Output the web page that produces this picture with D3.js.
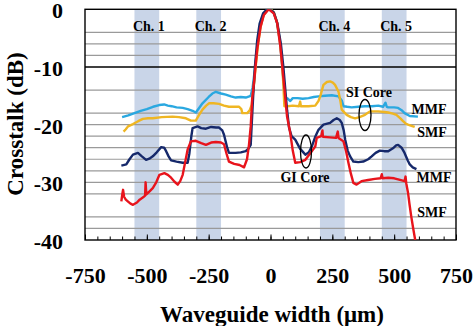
<!DOCTYPE html>
<html>
<head>
<meta charset="utf-8">
<script src="https://cdn.jsdelivr.net/npm/d3@7"></script>
<style>
  body{ margin:0; background:#fff; }
</style>
</head>
<body>
<svg id="chart" width="474" height="326"></svg>
<script>
//tick labels and reference lines
let xTicks = [-750, -500, -250, 0, 250, 500, 750];
let yTicks = [0, -10, -20, -30, -40];
let gridLines = [-4, -6, -8, -14, -18, -20, -22, -24, -26, -28, -30, -32, -36, -38];
let channels = [{name:"Ch. 1", c:-500}, {name:"Ch. 2", c:-250}, {name:"Ch. 4", c:250}, {name:"Ch. 5", c:500}];

//SI core, MMF (light blue)
let siMMF = [[-600,-18.7],[-575,-18.4],[-550,-18.0],[-525,-17.6],[-500,-17.3],[-475,-16.9],[-450,-16.6],[-430,-16.5],[-415,-16.7],[-400,-16.8],[-380,-17.0],[-355,-17.1],[-335,-17.3],[-315,-17.6],[-302,-17.9],[-290,-17.2],[-275,-16.3],[-250,-15.2],[-235,-14.6],[-221,-14.3],[-200,-14.6],[-181,-14.8],[-160,-15.1],[-141,-15.3],[-120,-15.2],[-100,-15.3],[-80,-15.0],[-72,-13.5],[-62,-10],[-52,-6],[-42,-3.2],[-30,-1.2],[-15,-0.1],[0,0],[12,-0.5],[25,-2],[38,-5.5],[48,-10],[55,-14],[60,-15.3],[70,-15.5],[80,-15.9],[90,-15.4],[110,-15.4],[130,-15.5],[154,-15.4],[175,-15.2],[194,-15.1],[220,-15.0],[248,-14.9],[275,-15.1],[288,-15.8],[295,-16.8],[310,-16.9],[328,-17.0],[355,-16.9],[382,-16.8],[410,-16.8],[436,-16.7],[455,-16.9],[465,-16.2],[470,-16.9],[476,-17.0],[500,-17.0],[516,-17.1],[530,-17.5],[542,-18.0],[563,-18.5],[596,-18.6]];

//SI core, SMF (gold)
let siSMF = [[-594,-21.2],[-585,-20.8],[-576,-20.3],[-556,-19.9],[-535,-19.4],[-516,-19.0],[-495,-18.9],[-476,-18.9],[-440,-18.7],[-396,-18.6],[-370,-18.7],[-342,-18.9],[-322,-19.3],[-302,-19.3],[-290,-18.4],[-275,-17.4],[-260,-16.7],[-248,-16.3],[-230,-16.3],[-208,-16.4],[-188,-16.7],[-168,-16.9],[-150,-16.9],[-127,-16.9],[-118,-17.3],[-114,-18.0],[-94,-18.0],[-84,-17.5],[-76,-16.6],[-68,-13.5],[-60,-10],[-50,-6],[-40,-3],[-28,-1],[-12,-0.1],[2,0],[14,-0.6],[26,-2.2],[38,-5.5],[46,-9],[52,-13],[56,-16.8],[70,-16.8],[90,-16.7],[115,-16.8],[120,-16.0],[123,-16.8],[154,-16.8],[181,-16.7],[194,-15.9],[201,-15.1],[214,-13.1],[228,-12.6],[241,-12.5],[252,-12.7],[261,-13.1],[275,-14.3],[283,-16.0],[288,-17.4],[308,-18.3],[325,-18.7],[342,-18.9],[360,-18.7],[382,-18.3],[402,-17.7],[436,-17.7],[460,-17.8],[476,-17.9],[495,-18.1],[509,-18.3],[525,-18.9],[536,-19.4],[546,-19.8],[556,-20.0],[570,-20.2],[583,-20.4]];

//GI core, MMF (navy)
let giMMF = [[-603,-27.1],[-583,-26.9],[-570,-26.0],[-556,-25.2],[-536,-24.9],[-520,-25.5],[-503,-26.1],[-490,-25.9],[-476,-25.5],[-460,-24.8],[-442,-23.9],[-430,-24.0],[-422,-24.6],[-412,-25.5],[-402,-26.2],[-380,-26.4],[-355,-26.6],[-335,-26.6],[-328,-25.0],[-320,-22.0],[-315,-20.6],[-295,-20.3],[-280,-20.6],[-261,-20.7],[-240,-20.4],[-220,-20.5],[-208,-20.5],[-195,-21.0],[-188,-21.75],[-175,-24.0],[-168,-24.9],[-141,-24.9],[-120,-24.8],[-100,-24.6],[-90,-24.2],[-80,-23.5],[-76,-20],[-70,-15],[-63,-10],[-54,-5.5],[-44,-2.5],[-30,-0.7],[-14,0],[0,-0.1],[14,-0.6],[28,-2.5],[42,-6],[52,-10],[60,-14],[67,-17.5],[75,-20.5],[85,-22.0],[100,-22.6],[120,-24.2],[141,-25.2],[155,-24.8],[167,-23.8],[180,-22.2],[194,-20.9],[214,-20.0],[241,-19.7],[255,-19.2],[268,-18.9],[280,-19.2],[288,-19.7],[296,-21],[302,-22.6],[312,-24.5],[322,-25.5],[335,-26.4],[355,-26.5],[375,-26.4],[395,-26.0],[409,-25.5],[425,-24.9],[442,-24.5],[460,-24.6],[476,-24.6],[495,-24.1],[508,-23.6],[516,-23.5],[530,-24.0],[542,-24.9],[555,-26.2],[563,-26.9],[575,-27.4],[590,-27.7]];

//GI core, SMF (red)
let giSMF = [[-603,-33.3],[-599,-32.0],[-596,-31.3],[-592,-32.5],[-585,-33.0],[-577,-33.3],[-566,-33.7],[-556,-33.9],[-540,-33.5],[-529,-33.0],[-515,-32.6],[-507,-32.3],[-505,-30.0],[-502,-32.1],[-490,-31.6],[-476,-31.0],[-462,-30.0],[-449,-28.7],[-429,-28.4],[-415,-28.7],[-402,-29.2],[-388,-29.9],[-375,-30.4],[-365,-29.8],[-355,-28.7],[-345,-26.5],[-335,-24.3],[-322,-22.9],[-302,-22.8],[-280,-23.2],[-261,-23.5],[-240,-23.1],[-221,-23.0],[-200,-23.1],[-188,-23.4],[-178,-25.0],[-168,-26.4],[-147,-26.8],[-125,-27.0],[-107,-27.4],[-95,-26.0],[-87,-23.5],[-80,-20.3],[-74,-15.5],[-67,-12.8],[-54,-7.0],[-40,-3.0],[-27,-1.0],[-7,0],[13,-0.7],[27,-2.4],[40,-6.5],[54,-12.8],[67,-18.6],[80,-21.5],[90,-24.5],[100,-26.6],[120,-26.5],[141,-26.1],[160,-25.0],[181,-23.8],[187,-22.3],[205,-22.0],[210,-21.0],[212,-22.1],[240,-22.2],[265,-22.3],[272,-21.2],[275,-22.3],[295,-22.9],[305,-24.5],[315,-26.6],[325,-28.5],[335,-30.1],[348,-30.4],[368,-29.8],[395,-29.6],[422,-29.4],[445,-29.3],[450,-28.6],[453,-29.3],[476,-29.2],[500,-29.3],[516,-29.5],[542,-29.8],[546,-29.0],[549,-30.2],[556,-31.8],[562,-33.8],[569,-35.9],[577,-38.0],[585,-40]];

let series = [
    {data: siMMF, color: "#2aa8e0"},
    {data: siSMF, color: "#efb623"},
    {data: giMMF, color: "#16296b"},
    {data: giSMF, color: "#e8141c"}
];

let serif = "'Liberation Serif', 'Times New Roman', 'DejaVu Serif', serif";

//plot box
let plotL = 85, plotR = 456, plotT = 9.3, plotB = 240;

let svg = d3.select("#chart");
let x = d3.scaleLinear().domain([-750, 750]).range([plotL, plotR]);
let y = d3.scaleLinear().domain([-40, 0]).range([plotB, plotT]);

svg.append("clipPath").attr("id", "plotClip")
    .append("rect").attr("x", plotL).attr("y", plotT)
    .attr("width", plotR - plotL).attr("height", plotB - plotT);

//channel bands
svg.append("g").selectAll("rect").data(channels).join("rect")
    .attr("x", d => x(d.c - 50))
    .attr("y", plotT)
    .attr("width", d => x(d.c + 50) - x(d.c - 50))
    .attr("height", plotB - plotT)
    .attr("fill", "#c9d5e8");

//gridlines
svg.append("g").selectAll("line").data(gridLines).join("line")
    .attr("x1", plotL).attr("x2", plotR)
    .attr("y1", d => y(d)).attr("y2", d => y(d))
    .attr("stroke", "#9a9a9a").attr("stroke-width", 1.2);

svg.append("line")
    .attr("x1", plotL).attr("x2", plotR)
    .attr("y1", y(-10)).attr("y2", y(-10))
    .attr("stroke", "#000").attr("stroke-width", 1.3);

//minor and major ticks pointing inward
let minor = d3.axisBottom(x).tickValues(d3.range(-750, 751, 50)).tickSize(-3.5).tickFormat("");
let minorG = svg.append("g").attr("transform", `translate(0,${plotB})`).call(minor);
minorG.select(".domain").remove();
minorG.selectAll("line").attr("stroke", "#000").attr("stroke-width", 1);

let major = d3.axisBottom(x).tickValues(xTicks).tickSize(-5.5).tickFormat("");
let majorG = svg.append("g").attr("transform", `translate(0,${plotB})`).call(major);
majorG.select(".domain").remove();
majorG.selectAll("line").attr("stroke", "#000").attr("stroke-width", 1);

//frame
svg.append("rect")
    .attr("x", plotL).attr("y", plotT)
    .attr("width", plotR - plotL).attr("height", plotB - plotT)
    .attr("fill", "none").attr("stroke", "#000").attr("stroke-width", 1.4);

//curves
let line = d3.line().x(d => x(d[0])).y(d => y(d[1]));
svg.append("g").attr("clip-path", "url(#plotClip)")
    .selectAll("path").data(series).join("path")
    .attr("d", d => line(d.data))
    .attr("fill", "none")
    .attr("stroke", d => d.color)
    .attr("stroke-width", 2.4)
    .attr("stroke-linejoin", "round");

//axes labels
let xAxis = d3.axisBottom(x).tickValues(xTicks).tickSize(0).tickFormat(d => d);
let xg = svg.append("g").attr("transform", `translate(0,${plotB})`).call(xAxis);
xg.select(".domain").remove();
xg.attr("font-family", serif).attr("font-size", 22).attr("font-weight", "bold");
xg.selectAll("text").attr("y", 43).attr("dy", 0).attr("fill", "#000");

let yAxis = d3.axisLeft(y).tickValues(yTicks).tickSize(0).tickPadding(22).tickFormat(d => d);
let yg = svg.append("g").attr("transform", `translate(${plotL},0)`).call(yAxis);
yg.select(".domain").remove();
yg.attr("font-family", serif).attr("font-size", 22).attr("font-weight", "bold");
yg.selectAll("text").attr("dy", "0.38em").attr("fill", "#000");

//all other texts
let labels = svg.append("g")
    .attr("font-family", serif)
    .attr("font-weight", "bold")
    .attr("fill", "#000");

labels.append("text")
    .attr("x", 272).attr("y", 322)
    .attr("text-anchor", "middle")
    .attr("font-size", 23)
    .text("Waveguide width (μm)");

labels.append("text")
    .attr("transform", "translate(23,124) rotate(-90)")
    .attr("text-anchor", "middle")
    .attr("font-size", 23)
    .text("Crosstalk (dB)");

//channel labels
labels.append("g").selectAll("text").data(channels).join("text")
    .attr("x", d => x(d.c) + 2)
    .attr("y", 31)
    .attr("text-anchor", "middle")
    .attr("font-size", 14)
    .text(d => d.name);

//annotations
let notes = [
    {t: "SI Core", x: 369, y: 97},
    {t: "MMF", x: 429, y: 114},
    {t: "SMF", x: 432, y: 137},
    {t: "GI Core", x: 305, y: 182},
    {t: "MMF", x: 434, y: 182},
    {t: "SMF", x: 432, y: 217}
];
labels.append("g").selectAll("text").data(notes).join("text")
    .attr("x", d => d.x).attr("y", d => d.y)
    .attr("text-anchor", "middle")
    .attr("font-size", 14)
    .text(d => d.t);

let rings = [{cx: 365, cy: 115, rx: 6, ry: 15.5}, {cx: 306, cy: 151.5, rx: 5.5, ry: 16.5}];
svg.append("g").selectAll("ellipse").data(rings).join("ellipse")
    .attr("cx", d => d.cx).attr("cy", d => d.cy)
    .attr("rx", d => d.rx).attr("ry", d => d.ry)
    .attr("fill", "none").attr("stroke", "#000").attr("stroke-width", 1.3);
</script>
</body>
</html>
